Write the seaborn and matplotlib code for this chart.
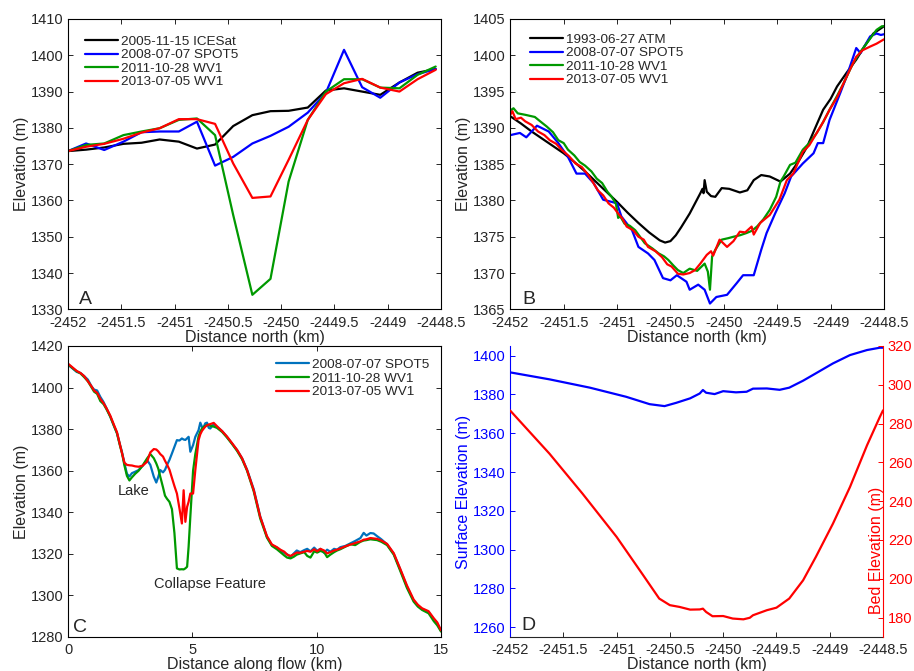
import matplotlib
matplotlib.use("Agg")
import numpy as np
import matplotlib.pyplot as plt
import matplotlib.ticker as mticker
import seaborn as sns

# ---------------- Panel A : ICESat track (points ~170 m apart) ----------------
a_x = [-2452.00, -2451.83, -2451.66, -2451.48, -2451.31, -2451.14, -2450.96,
       -2450.79, -2450.62, -2450.45, -2450.27, -2450.10, -2449.93, -2449.75,
       -2449.58, -2449.41, -2449.24, -2449.07, -2448.89, -2448.72, -2448.55]
a_icesat = [1373.6, 1374.0, 1374.6, 1375.6, 1375.9, 1376.8, 1376.2,
            1374.3, 1375.4, 1380.5, 1383.5, 1384.6, 1384.7, 1385.6,
            1390.3, 1390.9, 1390.0, 1389.1, 1392.5, 1395.2, 1396.2]
a_spot5 = [1373.6, 1375.7, 1373.9, 1376.2, 1378.8, 1379.0, 1379.0,
           1381.7, 1369.6, 1372.0, 1375.7, 1377.8, 1380.3, 1384.2,
           1389.7, 1401.5, 1391.2, 1388.3, 1392.5, 1394.8, 1396.2]
a_wv1_2011 = [1373.6, 1375.3, 1375.7, 1378.0, 1379.0, 1379.9, 1382.2,
              1382.6, 1378.0, 1356.0, 1334.0, 1338.4, 1365.2, 1382.2,
              1390.0, 1393.4, 1393.4, 1391.1, 1390.9, 1394.6, 1396.9]
a_wv1_2013 = [1373.6, 1374.8, 1375.6, 1377.0, 1378.7, 1379.9, 1382.4,
              1382.4, 1381.1, 1370.2, 1360.7, 1361.1, 1371.2, 1382.2,
              1389.3, 1392.3, 1393.5, 1391.1, 1390.0, 1393.4, 1396.0]

# ---------------- Panel B : same transect, dense profiles ----------------
b_atm_x = [-2452.0, -2451.9, -2451.8, -2451.7, -2451.6, -2451.5, -2451.4, -2451.3,
           -2451.2, -2451.1, -2451.0, -2450.9, -2450.8, -2450.7, -2450.6, -2450.55,
           -2450.5, -2450.45, -2450.4, -2450.32, -2450.27, -2450.22, -2450.2, -2450.19,
           -2450.18, -2450.16, -2450.12, -2450.08, -2450.02, -2449.95, -2449.85, -2449.78,
           -2449.72, -2449.65, -2449.57, -2449.47, -2449.38, -2449.3, -2449.22, -2449.15,
           -2449.07, -2449.0, -2448.94, -2448.85, -2448.76, -2448.68, -2448.6, -2448.5]
b_atm_y = [1391.6, 1390.6, 1389.5, 1388.5, 1387.5, 1386.5, 1385.3, 1384.0,
           1382.6, 1381.2, 1379.8, 1378.3, 1376.9, 1375.6, 1374.5, 1374.2,
           1374.4, 1375.2, 1376.3, 1378.2, 1379.6, 1381.0, 1381.6, 1381.0,
           1382.8, 1381.2, 1380.6, 1380.5, 1381.7, 1381.6, 1381.1, 1381.4,
           1382.8, 1383.5, 1383.3, 1382.6, 1383.7, 1385.4, 1387.4, 1389.8,
           1392.5, 1394.0, 1395.7, 1397.6, 1399.4, 1401.3, 1403.0, 1404.0]

b_spot_x = [-2452.0, -2451.91, -2451.85, -2451.75, -2451.64, -2451.55, -2451.46,
            -2451.38, -2451.3, -2451.22, -2451.13, -2451.05, -2451.0, -2450.96,
            -2450.86, -2450.8, -2450.71, -2450.65, -2450.57, -2450.5, -2450.44,
            -2450.35, -2450.32, -2450.24, -2450.18, -2450.13, -2450.07, -2449.97,
            -2449.88, -2449.82, -2449.72, -2449.65, -2449.6, -2449.52, -2449.43,
            -2449.37, -2449.26, -2449.16, -2449.12, -2449.07, -2449.01, -2448.91,
            -2448.85, -2448.76, -2448.72, -2448.63, -2448.57, -2448.53, -2448.5]
b_spot_y = [1389.0, 1389.3, 1388.7, 1390.3, 1389.5, 1387.9, 1386.0,
            1383.7, 1383.7, 1382.4, 1380.1, 1379.8, 1379.6, 1377.8,
            1375.9, 1373.6, 1372.7, 1371.8, 1369.3, 1369.0, 1369.7,
            1368.8, 1367.7, 1368.4, 1367.7, 1365.8, 1366.7, 1367.0,
            1368.6, 1369.7, 1369.7, 1373.2, 1375.5, 1378.2, 1381.0,
            1383.3, 1385.1, 1386.5, 1387.9, 1387.9, 1391.1, 1394.8,
            1397.1, 1401.0, 1400.3, 1402.6, 1403.0, 1402.8, 1402.9]

b_wv11_x = [-2452.0, -2451.97, -2451.93, -2451.86, -2451.77, -2451.72, -2451.66, -2451.6,
            -2451.55, -2451.5, -2451.46, -2451.4, -2451.35, -2451.3, -2451.24, -2451.19,
            -2451.14, -2451.09, -2451.05, -2451.01, -2450.99, -2450.97, -2450.93, -2450.88,
            -2450.83, -2450.78, -2450.74, -2450.67, -2450.61, -2450.56, -2450.52, -2450.47,
            -2450.43, -2450.38, -2450.32, -2450.25, -2450.18, -2450.15, -2450.13, -2450.11,
            -2450.08, -2450.02, -2449.96, -2449.91, -2449.85, -2449.79, -2449.74, -2449.69,
            -2449.63, -2449.57, -2449.51, -2449.47, -2449.44, -2449.38, -2449.33, -2449.26,
            -2449.2, -2449.13, -2449.07, -2449.01, -2448.94, -2448.88, -2448.79, -2448.72,
            -2448.66, -2448.57, -2448.52, -2448.5]
b_wv11_y = [1392.4, 1392.7, 1392.0, 1391.8, 1391.5, 1390.9, 1390.2, 1389.4,
            1388.3, 1387.9, 1387.0, 1386.2, 1385.3, 1384.8, 1384.0, 1383.0,
            1382.4, 1381.2, 1380.5, 1379.5, 1377.6, 1377.8, 1376.8, 1376.5,
            1375.9, 1374.9, 1374.1, 1373.4, 1372.7, 1372.3, 1371.8, 1371.0,
            1370.4, 1370.0, 1370.6, 1370.3, 1371.3, 1370.2, 1367.7, 1372.3,
            1373.2, 1374.6, 1374.8, 1375.0, 1375.2, 1375.5, 1375.8, 1376.4,
            1377.4, 1378.7, 1380.5, 1382.6, 1383.3, 1384.9, 1385.2, 1387.0,
            1387.9, 1389.3, 1390.8, 1392.5, 1394.4, 1396.1, 1398.9, 1400.5,
            1401.7, 1403.5, 1404.0, 1404.0]

b_wv13_x = [-2452.0, -2451.98, -2451.95, -2451.9, -2451.86, -2451.8, -2451.74, -2451.68,
            -2451.63, -2451.57, -2451.52, -2451.45, -2451.39, -2451.33, -2451.28, -2451.23,
            -2451.18, -2451.13, -2451.08, -2451.03, -2450.99, -2450.95, -2450.91, -2450.85,
            -2450.8, -2450.75, -2450.71, -2450.64, -2450.58, -2450.53, -2450.49, -2450.43,
            -2450.38, -2450.32, -2450.27, -2450.22, -2450.16, -2450.12, -2450.1, -2450.04,
            -2449.97, -2449.91, -2449.85, -2449.8, -2449.74, -2449.72, -2449.66, -2449.57,
            -2449.48, -2449.41, -2449.35, -2449.26, -2449.2, -2449.13, -2449.07, -2449.01,
            -2448.94, -2448.88, -2448.82, -2448.76, -2448.7, -2448.63, -2448.57, -2448.5]
b_wv13_y = [1391.8, 1392.3, 1391.2, 1391.4, 1390.9, 1390.4, 1389.5, 1389.0,
            1388.3, 1387.8, 1387.0, 1386.1, 1385.1, 1384.6, 1383.7, 1382.6,
            1381.4, 1380.7, 1379.6, 1379.0, 1378.2, 1377.5, 1376.4, 1375.9,
            1375.0, 1374.6, 1373.6, 1373.0, 1372.2, 1371.2, 1370.9, 1369.9,
            1369.8, 1370.0, 1370.4, 1371.3, 1372.5, 1373.0, 1372.4, 1374.6,
            1373.6, 1374.4, 1375.7, 1375.6, 1376.4, 1375.3, 1376.9, 1378.0,
            1380.1, 1382.8, 1383.7, 1386.7, 1387.6, 1389.3, 1390.8, 1392.5,
            1394.2, 1396.1, 1398.0, 1399.8, 1400.7, 1401.2, 1401.6, 1402.2]

# ---------------- Panel C : along-flow profiles ----------------
c_x = [0, 0.2, 0.35, 0.5, 0.65, 0.8, 0.95, 1.05, 1.17, 1.3,
       1.43, 1.55, 1.7, 1.85, 1.97, 2.08, 2.17, 2.27, 2.37, 2.47,
       2.57, 2.7, 2.84, 3.0, 3.18, 3.31, 3.45, 3.55, 3.63, 3.71,
       3.82, 3.9, 3.98, 4.08, 4.18, 4.28, 4.38, 4.48, 4.58, 4.65,
       4.72, 4.79, 4.85, 4.92, 5.03, 5.12, 5.25, 5.32, 5.39, 5.46,
       5.52, 5.59, 5.66, 5.72, 5.86, 5.99, 6.2, 6.39, 6.6, 6.8,
       7.0, 7.2, 7.47, 7.73, 8.0, 8.2, 8.4, 8.54, 8.7, 8.81,
       8.95, 9.08, 9.2, 9.34, 9.5, 9.62, 9.75, 9.9, 10.02, 10.15,
       10.3, 10.42, 10.55, 10.7, 10.82, 10.95, 11.15, 11.35, 11.55, 11.76,
       11.89, 12.0, 12.16, 12.29, 12.43, 12.6, 12.83, 13.1, 13.36, 13.63,
       13.9, 14.07, 14.24, 14.5, 14.71, 14.85, 15.0]
c_spot5 = [1411.0, 1409.0, 1407.5, 1407.0, 1405.5, 1403.8, 1400.5, 1399.0, 1398.6, 1395.5,
           1393.0, 1390.0, 1386.0, 1381.5, 1378.0, 1373.0, 1369.0, 1363.5, 1358.5, 1357.2,
           1358.8, 1359.5, 1360.3, 1362.3, 1365.1, 1362.8, 1357.1, 1354.3, 1357.0, 1360.3,
           1359.2, 1360.4, 1362.7, 1365.2, 1368.3, 1371.5, 1374.7, 1374.5, 1375.5, 1375.0,
           1374.8, 1375.6, 1376.3, 1369.1, 1372.3, 1376.3, 1379.5, 1383.1, 1381.0, 1381.1,
           1382.8, 1383.1, 1380.6, 1380.3, 1382.4, 1381.1, 1379.0, 1376.3, 1373.0, 1369.9,
           1366.0, 1360.5, 1351.0, 1338.0, 1328.2, 1324.2, 1323.0, 1321.7, 1320.5, 1319.8,
           1318.5, 1320.2, 1321.6, 1320.8, 1321.8, 1322.4, 1321.2, 1323.0, 1321.5, 1322.4,
           1320.4, 1322.0, 1321.0, 1322.4, 1322.0, 1323.2, 1323.8, 1325.0, 1326.2, 1327.6,
           1330.1, 1328.8, 1330.0, 1329.8, 1328.5, 1327.0, 1324.6, 1320.0, 1312.5, 1304.3,
           1297.5, 1295.0, 1293.4, 1292.0, 1288.5, 1286.5, 1283.0]
c_wv1_2011 = [1411.2, 1409.2, 1407.8, 1406.8, 1405.0, 1403.0, 1400.0, 1398.0, 1397.0, 1393.5,
              1392.0, 1389.5, 1386.0, 1381.5, 1378.0, 1372.5, 1368.5, 1362.5, 1357.5, 1355.3,
              1356.8, 1358.5, 1360.0, 1362.5, 1365.9, 1368.0, 1366.0, 1363.5, 1361.0, 1357.1,
              1352.0, 1348.0, 1346.5, 1345.0, 1341.5, 1330.0, 1313.0, 1312.5, 1312.6, 1312.5,
              1313.0, 1313.8, 1323.4, 1338.0, 1360.0, 1368.0, 1376.5, 1378.8, 1380.3, 1381.0,
              1381.6, 1382.0, 1382.0, 1381.6, 1381.2, 1380.6, 1378.6, 1376.0, 1372.8, 1369.5,
              1365.5, 1360.0, 1350.0, 1337.0, 1327.8, 1323.8, 1322.2, 1320.8, 1319.2, 1318.2,
              1317.8, 1318.6, 1319.6, 1320.2, 1320.8, 1319.0, 1318.2, 1321.2, 1320.6, 1321.4,
              1320.8, 1318.4, 1319.6, 1320.8, 1321.6, 1322.2, 1323.4, 1324.6, 1324.2, 1325.8,
              1326.4, 1326.6, 1327.0, 1326.8, 1326.6, 1325.8, 1324.2, 1319.6, 1311.8, 1303.6,
              1297.0, 1294.6, 1293.0, 1291.4, 1287.6, 1285.6, 1282.6]
c_wv1_2013 = [1411.5, 1409.5, 1408.0, 1407.0, 1405.5, 1403.0, 1400.5, 1398.5, 1397.5, 1394.5,
              1392.5, 1390.0, 1386.5, 1382.0, 1378.5, 1373.0, 1368.5, 1363.8, 1362.8, 1362.6,
              1362.5, 1362.1, 1361.9, 1362.4, 1364.3, 1368.8, 1370.4, 1370.2, 1369.3, 1368.0,
              1366.8, 1364.8, 1363.0, 1360.5, 1356.5, 1352.6, 1349.0, 1342.0, 1334.6, 1350.6,
              1335.4, 1342.6, 1345.0, 1349.0, 1349.0, 1360.3, 1374.7, 1377.5, 1379.2, 1380.3,
              1381.2, 1381.8, 1382.2, 1382.4, 1383.0, 1381.4, 1379.0, 1376.5, 1373.2, 1370.0,
              1366.0, 1360.3, 1350.6, 1337.8, 1328.5, 1324.5, 1323.2, 1322.0, 1321.0, 1319.6,
              1319.0, 1319.8, 1320.6, 1320.5, 1321.0, 1321.4, 1321.0, 1322.2, 1321.2, 1322.4,
              1321.6, 1320.2, 1320.8, 1321.6, 1322.0, 1322.6, 1323.6, 1324.4, 1325.2, 1326.0,
              1326.8, 1327.0, 1327.6, 1327.4, 1327.2, 1326.4, 1324.8, 1320.3, 1312.8, 1304.8,
              1298.0, 1295.5, 1293.8, 1292.4, 1289.0, 1287.0, 1283.2]

# ---------------- Panel D : surface and bed ----------------
d_x = [-2452.0, -2451.63, -2451.25, -2450.91, -2450.69, -2450.55, -2450.44, -2450.31,
       -2450.22, -2450.19, -2450.16, -2450.08, -2450.0, -2449.88, -2449.78, -2449.72,
       -2449.59, -2449.47, -2449.38, -2449.25, -2449.13, -2448.97, -2448.81, -2448.65,
       -2448.53, -2448.5]
d_surface = [1391.4, 1387.8, 1383.5, 1378.8, 1375.0, 1374.0, 1375.7, 1378.0,
             1380.5, 1382.3, 1380.9, 1380.2, 1381.7, 1381.1, 1381.4, 1383.0,
             1383.1, 1382.4, 1383.5, 1387.1, 1390.9, 1396.0, 1400.3, 1402.9,
             1404.1, 1404.1]
d_bed_x = [-2452.0, -2451.63, -2451.32, -2451.0, -2450.75, -2450.6, -2450.5, -2450.41,
           -2450.31, -2450.22, -2450.19, -2450.16, -2450.1, -2450.0, -2449.91, -2449.81,
           -2449.75, -2449.72, -2449.59, -2449.5, -2449.38, -2449.25, -2449.13, -2448.97,
           -2448.81, -2448.65, -2448.53, -2448.5]
d_bed = [286.8, 264.5, 243.9, 221.6, 201.8, 189.8, 186.4, 185.5,
         184.1, 184.2, 184.6, 182.9, 180.7, 180.8, 179.5, 179.1,
         179.9, 181.2, 183.8, 185.1, 189.8, 199.2, 211.3, 228.4,
         247.3, 268.8, 283.4, 286.8]

# colours (MATLAB-like)
BLACK, BLUE, GREEN, RED = "#000000", "#0000ff", "#009900", "#ff0000"
C_BLUE = "#0072bd"

sns.set_theme(style="ticks")
plt.rcParams["font.family"] = ["Liberation Sans", "DejaVu Sans"]
plt.rcParams["axes.unicode_minus"] = False
plt.rcParams["axes.linewidth"] = 0.8
plt.rcParams["xtick.direction"] = "in"
plt.rcParams["ytick.direction"] = "in"
plt.rcParams["xtick.major.size"] = 3.5
plt.rcParams["ytick.major.size"] = 3.5
plt.rcParams["xtick.major.width"] = 0.7
plt.rcParams["ytick.major.width"] = 0.7
plt.rcParams["xtick.major.pad"] = 4.6
plt.rcParams["ytick.major.pad"] = 3.5
plt.rcParams["xtick.labelsize"] = 10.5
plt.rcParams["ytick.labelsize"] = 10.5
plt.rcParams["axes.labelsize"] = 11.5

fig = plt.figure(figsize=(9.14, 6.71), dpi=100)
axA = fig.add_axes([0.0744, 0.5390, 0.4081, 0.4327])
axB = fig.add_axes([0.5583, 0.5390, 0.4089, 0.4327])
axC = fig.add_axes([0.0744, 0.0507, 0.4081, 0.4337])
axD = fig.add_axes([0.5580, 0.0507, 0.4081, 0.4337])

LW = 1.6
north_ticks = np.arange(-2452, -2448.4, 0.5)


def box_axes(ax, xlim, ylim, yticks):
    ax.set_xlim(*xlim)
    ax.set_ylim(*ylim)
    ax.set_yticks(yticks)
    ax.tick_params(top=True, right=True, which="both")
    for s in ax.spines.values():
        s.set_visible(True)
        s.set_color("black")
    ax.xaxis.set_major_formatter(mticker.FormatStrFormatter("%g"))
    ax.yaxis.set_major_formatter(mticker.FormatStrFormatter("%g"))


def profile_legend(ax, x0, y0):
    ax.legend(loc="upper left", bbox_to_anchor=(x0, y0), frameon=False,
              fontsize=9.7, handlelength=2.45, handletextpad=0.2,
              labelspacing=0.08, borderpad=0, borderaxespad=0)


# ---- A
for yv, col, lab in [(a_icesat, BLACK, "2005-11-15 ICESat"),
                     (a_spot5, BLUE, "2008-07-07 SPOT5"),
                     (a_wv1_2011, GREEN, "2011-10-28 WV1"),
                     (a_wv1_2013, RED, "2013-07-05 WV1")]:
    sns.lineplot(x=a_x, y=yv, color=col, lw=LW, label=lab, ax=axA,
                 estimator=None, sort=False)
box_axes(axA, (-2452, -2448.5), (1330, 1410), np.arange(1330, 1411, 10))
axA.set_xticks(north_ticks)
axA.set_xlabel("Distance north (km)", labelpad=0)
axA.set_ylabel("Elevation (m)", labelpad=1)
profile_legend(axA, 0.046, 0.943)

# ---- B
for xv, yv, col, lab in [(b_atm_x, b_atm_y, BLACK, "1993-06-27 ATM"),
                         (b_spot_x, b_spot_y, BLUE, "2008-07-07 SPOT5"),
                         (b_wv11_x, b_wv11_y, GREEN, "2011-10-28 WV1"),
                         (b_wv13_x, b_wv13_y, RED, "2013-07-05 WV1")]:
    sns.lineplot(x=xv, y=yv, color=col, lw=LW, label=lab, ax=axB,
                 estimator=None, sort=False)
box_axes(axB, (-2452, -2448.5), (1365, 1405), np.arange(1365, 1406, 5))
axB.set_xticks(north_ticks)
axB.set_xlabel("Distance north (km)", labelpad=0)
axB.set_ylabel("Elevation (m)", labelpad=1)
profile_legend(axB, 0.053, 0.95)

# ---- C
for yv, col, lab in [(c_spot5, C_BLUE, "2008-07-07 SPOT5"),
                     (c_wv1_2011, GREEN, "2011-10-28 WV1"),
                     (c_wv1_2013, RED, "2013-07-05 WV1")]:
    sns.lineplot(x=c_x, y=yv, color=col, lw=LW, label=lab, ax=axC,
                 estimator=None, sort=False)
box_axes(axC, (0, 15), (1280, 1420), np.arange(1280, 1421, 20))
axC.set_xticks([0, 5, 10, 15])
axC.set_xlabel("Distance along flow (km)", labelpad=0)
axC.set_ylabel("Elevation (m)", labelpad=1)
profile_legend(axC, 0.558, 0.956)
axC.text(2.64, 1350.2, "Lake", ha="center", va="center", fontsize=10.5)
axC.text(5.70, 1305.4, "Collapse Feature", ha="center", va="center", fontsize=10.5)

# ---- D (twin axes)
axD2 = axD.twinx()
sns.lineplot(x=d_x, y=d_surface, color=BLUE, lw=LW, ax=axD, estimator=None, sort=False)
sns.lineplot(x=d_bed_x, y=d_bed, color=RED, lw=LW, ax=axD2, estimator=None, sort=False)
axD.set_xlim(-2452, -2448.5)
axD.set_xticks(north_ticks)
axD.xaxis.set_major_formatter(mticker.FormatStrFormatter("%g"))
axD.set_ylim(1255, 1405)
axD.set_yticks(np.arange(1260, 1401, 20))
axD2.set_ylim(170, 320)
axD2.set_yticks(np.arange(180, 321, 20))
axD.spines["top"].set_visible(False)
axD2.spines["top"].set_visible(False)
axD.spines["right"].set_visible(False)
axD.spines["left"].set_color(BLUE)
axD2.spines["left"].set_visible(False)
axD2.spines["right"].set_visible(True)
axD2.spines["right"].set_color(RED)
axD2.spines["bottom"].set_visible(False)
axD.tick_params(axis="y", colors=BLUE, left=True, right=False)
axD.tick_params(axis="x", top=False)
axD2.tick_params(axis="y", colors=RED, right=True, left=False, direction="in")
axD.set_xlabel("Distance north (km)", labelpad=0)
axD.set_ylabel("Surface Elevation (m)", color=BLUE, labelpad=1)
axD2.set_ylabel("Bed Elevation (m)", color=RED)
axD2.yaxis.set_label_coords(0.962, 0.297)

# panel letters
for ax, letter, lx, ly in [(axA, "A", 0.03, 0.02), (axB, "B", 0.033, 0.02),
                           (axC, "C", 0.014, 0.018), (axD, "D", 0.031, 0.024)]:
    ax.text(lx, ly, letter, transform=ax.transAxes,
            ha="left", va="baseline", fontsize=14)

fig.savefig("out.png", dpi=100)
